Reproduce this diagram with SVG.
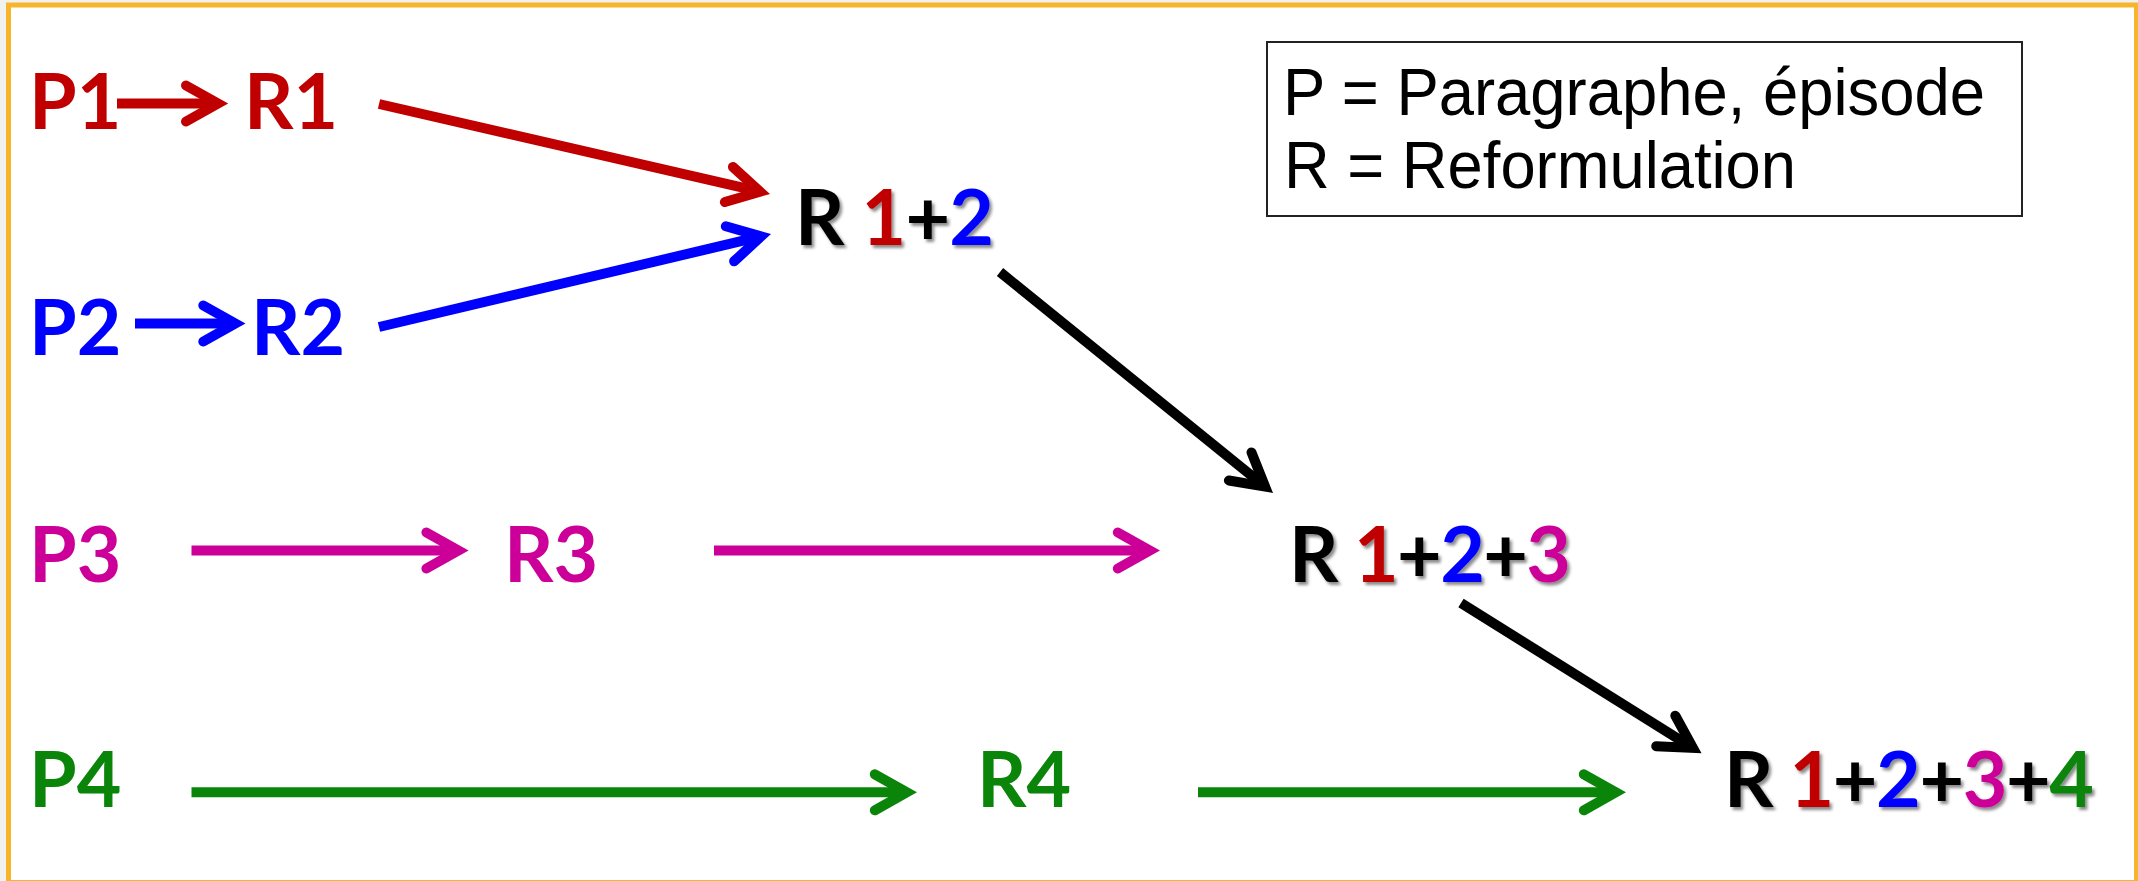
<svg xmlns="http://www.w3.org/2000/svg" width="2138" height="881" viewBox="0 0 2138 881">
  <style>
    .lbl { font-family: Lato, "Open Sans", "Liberation Sans", sans-serif; font-weight: 700; font-size: 77px; }
    .legend { font-family: "Liberation Sans", Arial, sans-serif; font-size: 66px; fill: #000; }
    .conn { fill: none; stroke-width: 10; stroke-linecap: butt; }
    .head { fill: none; stroke-width: 10; stroke-linecap: round; stroke-linejoin: miter; stroke-miterlimit: 10; }
    .red { fill: #C00000; } .blue { fill: #0000FF; } .mag { fill: #CC0099; } .grn { fill: #0A850A; } .blk { fill: #000; }
  </style>
  <defs>
    <filter id="shadow" x="-10%" y="-20%" width="130%" height="150%">
      <feDropShadow dx="2.5" dy="3" stdDeviation="1.6" flood-color="#000" flood-opacity="0.45"/>
    </filter>
    <marker id="ah-red" markerUnits="userSpaceOnUse" orient="auto" overflow="visible" markerWidth="1" markerHeight="1" refX="0" refY="0"><path class="head" stroke="#C00000" d="M-32,-18 L0,0 L-32,18"/></marker>
    <marker id="ah-blue" markerUnits="userSpaceOnUse" orient="auto" overflow="visible" markerWidth="1" markerHeight="1" refX="0" refY="0"><path class="head" stroke="#0000FF" d="M-32,-18 L0,0 L-32,18"/></marker>
    <marker id="ah-mag" markerUnits="userSpaceOnUse" orient="auto" overflow="visible" markerWidth="1" markerHeight="1" refX="0" refY="0"><path class="head" stroke="#CC0099" d="M-32,-18 L0,0 L-32,18"/></marker>
    <marker id="ah-grn" markerUnits="userSpaceOnUse" orient="auto" overflow="visible" markerWidth="1" markerHeight="1" refX="0" refY="0"><path class="head" stroke="#0A850A" d="M-32,-18 L0,0 L-32,18"/></marker>
    <marker id="ah-blk" markerUnits="userSpaceOnUse" orient="auto" overflow="visible" markerWidth="1" markerHeight="1" refX="0" refY="0"><path class="head" stroke="#000000" d="M-32,-18 L0,0 L-32,18"/></marker>
  </defs>

  <rect x="0" y="0" width="2138" height="881" fill="#F1F1EF"/>
  <rect x="8.5" y="5" width="2128" height="877.5" fill="#FFFFFF" stroke="#F7B52C" stroke-width="5"/>

  <g id="connectors">
    <line class="conn" stroke="#C00000" x1="117" y1="103.5" x2="218" y2="103.5" marker-end="url(#ah-red)"/>
    <line class="conn" stroke="#0000FF" x1="135" y1="323.5" x2="235.3" y2="323.5" marker-end="url(#ah-blue)"/>
    <line class="conn" stroke="#CC0099" x1="191.5" y1="550.5" x2="458.4" y2="550.5" marker-end="url(#ah-mag)"/>
    <line class="conn" stroke="#CC0099" x1="714" y1="550.5" x2="1149.8" y2="550.5" marker-end="url(#ah-mag)"/>
    <line class="conn" stroke="#0A850A" x1="191.5" y1="792.3" x2="906.8" y2="792.3" marker-end="url(#ah-grn)"/>
    <line class="conn" stroke="#0A850A" x1="1198" y1="792.3" x2="1615.8" y2="792.3" marker-end="url(#ah-grn)"/>
    <line class="conn" stroke="#C00000" x1="379" y1="104" x2="760.1" y2="191.7" marker-end="url(#ah-red)"/>
    <line class="conn" stroke="#0000FF" x1="379" y1="327" x2="761.1" y2="236.4" marker-end="url(#ah-blue)"/>
    <line class="conn" stroke="#000000" x1="1000" y1="272" x2="1265.1" y2="486.6" marker-end="url(#ah-blk)"/>
    <line class="conn" stroke="#000000" x1="1461" y1="603" x2="1692.9" y2="747.9" marker-end="url(#ah-blk)"/>
  </g>

  <g id="legend">
    <rect x="1267" y="42" width="755" height="174" fill="#FFFFFF" stroke="#222222" stroke-width="2"/>
    <text class="legend" x="1283" y="115" textLength="702" lengthAdjust="spacingAndGlyphs">P = Paragraphe, épisode</text>
    <text class="legend" x="1284" y="188" textLength="512" lengthAdjust="spacingAndGlyphs">R = Reformulation</text>
  </g>

  <g id="P1"><text class="lbl red" x="29" y="129">P1</text></g>
  <g id="R1"><text class="lbl red" x="244" y="129">R1</text></g>
  <g id="P2"><text class="lbl blue" x="29" y="355">P2</text></g>
  <g id="R2"><text class="lbl blue" x="251" y="355">R2</text></g>
  <g id="P3"><text class="lbl mag" x="29" y="582">P3</text></g>
  <g id="R3"><text class="lbl mag" x="504" y="582">R3</text></g>
  <g id="P4"><text class="lbl grn" x="29" y="807">P4</text></g>
  <g id="R4"><text class="lbl grn" x="977" y="807">R4</text></g>

  <g id="R12" filter="url(#shadow)">
    <text class="lbl blk" x="795" y="245" textLength="199"><tspan class="blk">R </tspan><tspan class="red">1</tspan><tspan class="blk">+</tspan><tspan class="blue">2</tspan></text>
  </g>
  <g id="R123" filter="url(#shadow)">
    <text class="lbl blk" x="1289" y="582" textLength="282"><tspan class="blk">R </tspan><tspan class="red">1</tspan><tspan class="blk">+</tspan><tspan class="blue">2</tspan><tspan class="blk">+</tspan><tspan class="mag">3</tspan></text>
  </g>
  <g id="R1234" filter="url(#shadow)">
    <text class="lbl blk" x="1724" y="807" textLength="370"><tspan class="blk">R </tspan><tspan class="red">1</tspan><tspan class="blk">+</tspan><tspan class="blue">2</tspan><tspan class="blk">+</tspan><tspan class="mag">3</tspan><tspan class="blk">+</tspan><tspan class="grn">4</tspan></text>
  </g>
</svg>
